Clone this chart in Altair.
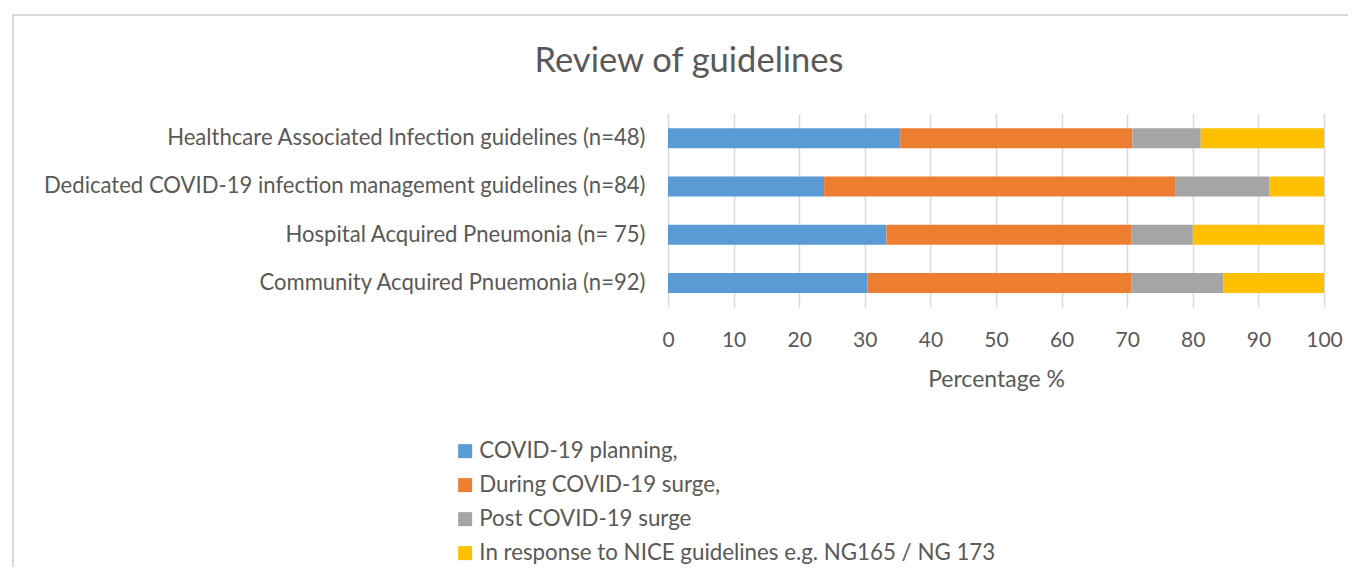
import altair as alt
import pandas as pd

categories = [
    "Healthcare Associated Infection guidelines (n=48)",
    "Dedicated COVID-19 infection management guidelines (n=84)",
    "Hospital Acquired Pneumonia (n= 75)",
    "Community Acquired Pnuemonia (n=92)",
]
series = [
    "COVID-19 planning,",
    "During COVID-19 surge,",
    "Post COVID-19 surge",
    "In response to NICE  guidelines e.g. NG165 / NG 173",
]
planning = [35.4, 23.8, 33.3, 30.4]
during = [35.4, 53.6, 37.3, 40.2]
post = [10.4, 14.3, 9.4, 14.1]
nice = [18.8, 8.3, 20.0, 15.3]
colors = ["#5B9BD5", "#ED7D31", "#A5A5A5", "#FFC000"]
title_text = "Review of guidelines"

rows = []
for vals, s_idx in [(planning, 0), (during, 1), (post, 2), (nice, 3)]:
    for c, v in zip(categories, vals):
        rows.append({"category": c, "series": series[s_idx], "order": s_idx, "value": v})
df = pd.DataFrame(rows)

FONT = "Lato"
TXT = "#595959"

bars = alt.Chart(df).mark_bar(size=20).encode(
    y=alt.Y("category:N", sort=categories, title=None,
            axis=alt.Axis(labelFontSize=22.1, labelColor=TXT, labelFont=FONT,
                          ticks=False, domain=False, labelPadding=23, labelLimit=800,
                          grid=False)),
    x=alt.X("value:Q", stack="zero", scale=alt.Scale(domain=[0, 100], nice=False),
            title="Percentage %",
            axis=alt.Axis(values=list(range(0, 101, 10)), labelFontSize=21, labelColor=TXT,
                          labelFont=FONT, ticks=False, domain=False, labelPadding=22,
                          labelFlush=False,
                          titleFontSize=23, titleColor=TXT, titleFont=FONT,
                          titleFontWeight="normal", titlePadding=18,
                          gridColor="#D9D9D9", gridWidth=1.5)),
    color=alt.Color("series:N", sort=series,
                    scale=alt.Scale(domain=series, range=colors),
                    legend=alt.Legend(title=None, orient="none", legendX=-214, legendY=326,
                                      symbolType="square", symbolSize=196,
                                      symbolStrokeWidth=0, labelFontSize=22.3,
                                      labelFont=FONT, labelColor=TXT, rowPadding=11,
                                      labelLimit=800, labelOffset=3)),
    order=alt.Order("order:Q"),
)

frame = alt.Chart(pd.DataFrame({"f": [0]})).mark_rect(
    fill="transparent", stroke="#D9D9D9", strokeWidth=2, clip=False
).encode(x=alt.value(-655), x2=alt.value(720), y=alt.value(-99), y2=alt.value(480))

title = alt.Chart(pd.DataFrame({"t": [title_text]})).mark_text(
    font=FONT, fontSize=34.5, color=TXT, align="center", baseline="alphabetic", clip=False
).encode(text="t:N", x=alt.value(21), y=alt.value(-42))

chart = alt.layer(frame, bars, title).properties(
    width=656,
    height=193,
    autosize=alt.AutoSizeParams(type="none"),
    padding={"left": 660, "top": 106, "right": 24, "bottom": 260},
).configure(background="white").configure_view(strokeWidth=0)

chart.save("out.html", embed_options={"renderer": "svg", "actions": False})
